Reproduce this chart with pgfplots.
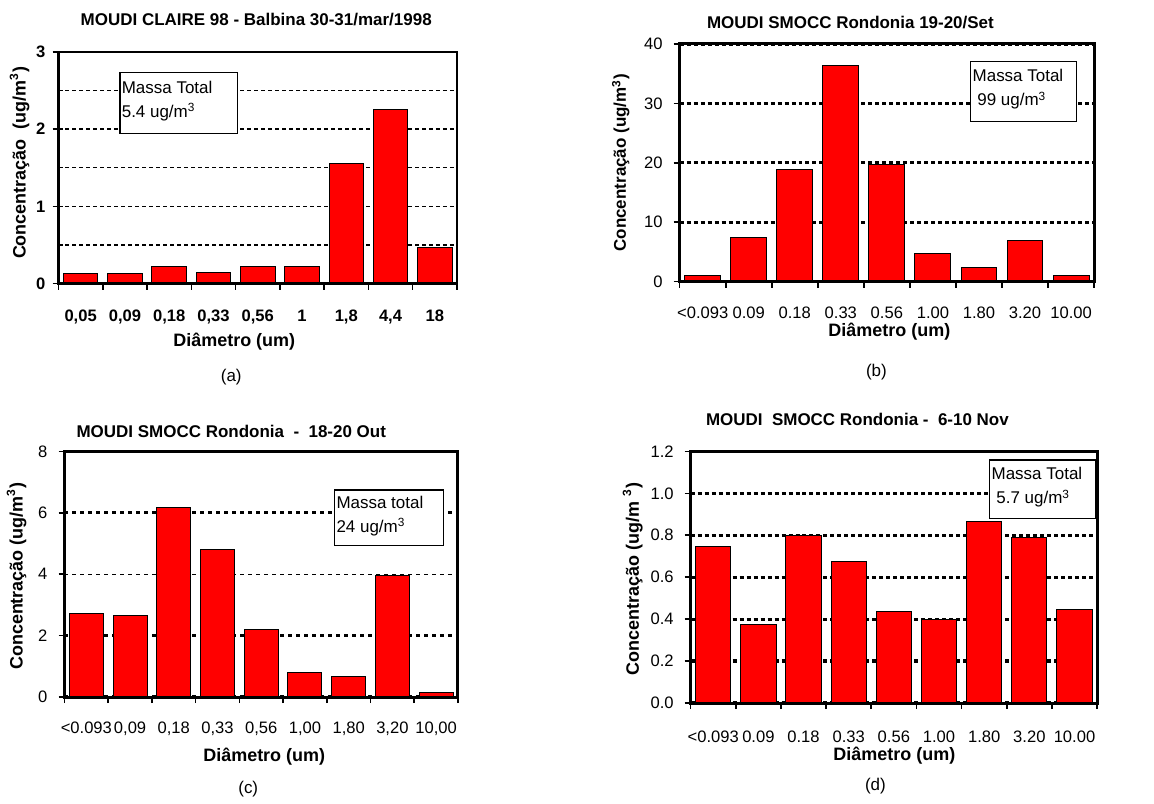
\documentclass[border=0pt]{standalone}
\usepackage{fontspec}
\setmainfont{Liberation Sans}
\usepackage{pgfplots}
\pgfplotsset{compat=1.18}
\definecolor{barred}{RGB}{255,0,0}
\pgfplotsset{
  layers/mylayers/.define layer set={axis background,axis grid,pre main,main,axis ticks,axis lines,axis tick labels,axis descriptions,axis foreground}{
    grid style={/pgfplots/on layer=axis grid},
    tick style={/pgfplots/on layer=axis ticks},
    axis line style={/pgfplots/on layer=axis lines},
    label style={/pgfplots/on layer=axis descriptions},
    title style={/pgfplots/on layer=axis descriptions},
    ticklabel style={/pgfplots/on layer=axis tick labels},
  },
  mybar/.style={
    set layers=mylayers,
    scale only axis,
    anchor=south west,
    xmin=-0.5, xmax=8.5,
    xtick={-0.5,0.5,...,8.5},
    xticklabels={},
    extra x ticks={0,1,2,3,4,5,6,7,8},
    extra x tick style={major tick length=0pt},
    tick align=outside,
    xtick pos=bottom, ytick pos=left,
    major tick length=3pt,
    tick style={black, line width=0.8pt},
    axis line style={line width=1.5pt},
    ymajorgrids,
    ymin=0,
    ybar, bar width=0.78,
    xticklabel style={font=\fontsize{8.3}{9}\selectfont, yshift=-9pt},
    yticklabel style={font=\fontsize{8.3}{9}\selectfont, xshift=-2pt},
  },
  barsty/.style={fill=barred, draw=black, line width=0.5pt},
}
\begin{document}
\begin{tikzpicture}
\path (0,0) rectangle (577pt,399.5pt);

% (a)
\begin{axis}[mybar, at={(28.5pt,257.5pt)}, width=199.5pt, height=116pt,
  ymax=3, ytick={0,1,2,3}, yticklabels={\textbf{0},\textbf{1},\textbf{2},\textbf{3}},
  yticklabel style={xshift=2pt},
  xticklabel style={yshift=-0.5pt},
  extra y ticks={0.5,1.5,2.5}, extra y tick labels={},
  extra y tick style={major tick length=0pt},
  major grid style={black, line width=0.7pt, dash pattern=on 2pt off 1.5pt},
  axis line style={line width=1.3pt},
  extra x tick labels={\textbf{0,05},\textbf{0,09},\textbf{0,18},\textbf{0,33},\textbf{0,56},\textbf{1},\textbf{1,8},\textbf{4,4},\textbf{18}},
]
\addplot[barsty] coordinates {(0,0.13) (1,0.13) (2,0.22) (3,0.15) (4,0.22) (5,0.22) (6,1.55) (7,2.25) (8,0.47)};
\end{axis}

% (b)
\begin{axis}[mybar, at={(339.5pt,258.5pt)}, width=207.5pt, height=119pt,
  ymax=40, ytick={0,10,20,30,40}, yticklabels={0,10,20,30,40},
  major grid style={black, line width=1.6pt, dash pattern=on 2pt off 1.5pt},
  extra x tick labels={{<0.093},0.09,0.18,0.33,0.56,1.00,1.80,3.20,10.00},
]
\addplot[barsty] coordinates {(0,1.0) (1,7.4) (2,18.9) (3,36.3) (4,19.7) (5,4.7) (6,2.3) (7,6.9) (8,1.0)};
\end{axis}

% (c)
\begin{axis}[mybar, at={(31.5pt,50.5pt)}, width=197pt, height=123pt,
  ymax=8, ytick={0,2,6,8}, yticklabels={0,2,6,8},
  extra y ticks={4}, extra y tick labels={4},
  extra y tick style={major grid style={black, line width=0.7pt, dash pattern=on 2pt off 2pt}},
  major grid style={black, line width=1.6pt, dash pattern=on 2pt off 2pt},
  extra x tick labels={{<0.093},{0,09},{0,18},{0,33},{0,56},{1,00},{1,80},{3,20},{10,00}},
]
\addplot[barsty] coordinates {(0,2.71) (1,2.66) (2,6.18) (3,4.82) (4,2.2) (5,0.79) (6,0.68) (7,3.96) (8,0.14)};
\end{axis}

% (d)
\begin{axis}[mybar, at={(345pt,47.5pt)}, width=203.5pt, height=126pt,
  ymax=1.2, ytick={0,0.2,0.4,0.6,0.8,1.0,1.2}, yticklabels={0.0,0.2,0.4,0.6,0.8,1.0,1.2},
  xticklabel style={yshift=-1.5pt},
  major grid style={black, line width=1.6pt, dash pattern=on 2pt off 1.5pt},
  extra x tick labels={{<0.093},0.09,0.18,0.33,0.56,1.00,1.80,3.20,10.00},
]
\addplot[barsty] coordinates {(0,0.746) (1,0.376) (2,0.798) (3,0.676) (4,0.438) (5,0.398) (6,0.867) (7,0.79) (8,0.444)};
\end{axis}

% titles
\node[font=\bfseries\fontsize{8.5}{10}\selectfont] at (127.5pt,389.5pt) {MOUDI CLAIRE 98 - Balbina 30-31/mar/1998};
\node[font=\bfseries\fontsize{8.5}{10}\selectfont] at (425pt,388pt) {MOUDI SMOCC Rondonia 19-20/Set};
\node[font=\bfseries\fontsize{8.5}{10}\selectfont] at (115pt,183.5pt) {MOUDI SMOCC Rondonia \ - \ 18-20 Out};
\node[font=\bfseries\fontsize{8.5}{10}\selectfont] at (428.5pt,189.5pt) {MOUDI \ SMOCC Rondonia - \ 6-10 Nov};

% x labels
\node[font=\bfseries\fontsize{9}{10}\selectfont] at (116.5pt,228.5pt) {Diâmetro (um)};
\node[font=\bfseries\fontsize{9}{10}\selectfont] at (444.5pt,233.5pt) {Diâmetro (um)};
\node[font=\bfseries\fontsize{9}{10}\selectfont] at (131.5pt,20.5pt) {Diâmetro (um)};
\node[font=\bfseries\fontsize{9}{10}\selectfont] at (447pt,21pt) {Diâmetro (um)};

% y labels
\node[rotate=90, font=\bfseries\fontsize{9}{10}\selectfont] at (9pt,318pt) {Concentração \ (ug/m\textsuperscript{3})};
\node[rotate=90, font=\bfseries\fontsize{8.5}{10}\selectfont] at (310pt,318pt) {Concentração (ug/m\textsuperscript{3})};
\node[rotate=90, font=\bfseries\fontsize{9}{10}\selectfont] at (7.5pt,111pt) {Concentração (ug/m\textsuperscript{3})};
\node[rotate=90, font=\bfseries\fontsize{9}{10}\selectfont] at (316pt,109.5pt) {Concentração (ug/m \textsuperscript{3})};

% captions
\node[font=\fontsize{8.5}{10}\selectfont] at (115pt,210.5pt) {(a)};
\node[font=\fontsize{8.5}{10}\selectfont] at (438pt,213pt) {(b)};
\node[font=\fontsize{8.5}{10}\selectfont] at (123.5pt,4.5pt) {(c)};
\node[font=\fontsize{8.5}{10}\selectfont] at (437.5pt,6pt) {(d)};

% boxes
\node[draw, fill=white, line width=0.6pt, anchor=north west, minimum width=59pt, minimum height=30.5pt, inner sep=0pt] (ba) at (59pt,363.5pt) {};
\node[anchor=west, align=left, inner sep=1pt, font=\fontsize{8.5}{12}\selectfont] at ([yshift=1pt]ba.west) {Massa Total\\5.4 ug/m\textsuperscript{3}};
\node[draw, fill=white, line width=0.6pt, anchor=north west, minimum width=53pt, minimum height=30pt, inner sep=0pt] (bb) at (485pt,369pt) {};
\node[anchor=west, align=left, inner sep=1pt, font=\fontsize{8.5}{12}\selectfont] at ([yshift=1pt]bb.west) {Massa Total\\\ 99 ug/m\textsuperscript{3}};
\node[draw, fill=white, line width=0.6pt, anchor=north west, minimum width=54.5pt, minimum height=28pt, inner sep=0pt] (bc) at (166.5pt,154.5pt) {};
\node[anchor=west, align=left, inner sep=1pt, font=\fontsize{8.5}{12}\selectfont] at ([yshift=1pt]bc.west) {Massa total\\24 ug/m\textsuperscript{3}};
\node[draw, fill=white, line width=0.6pt, anchor=north west, minimum width=53pt, minimum height=29.5pt, inner sep=0pt] (bd) at (494.5pt,169.5pt) {};
\node[anchor=west, align=left, inner sep=1pt, font=\fontsize{8.5}{12}\selectfont] at ([yshift=1pt]bd.west) {Massa Total\\\ 5.7 ug/m\textsuperscript{3}};
\end{tikzpicture}
\end{document}
